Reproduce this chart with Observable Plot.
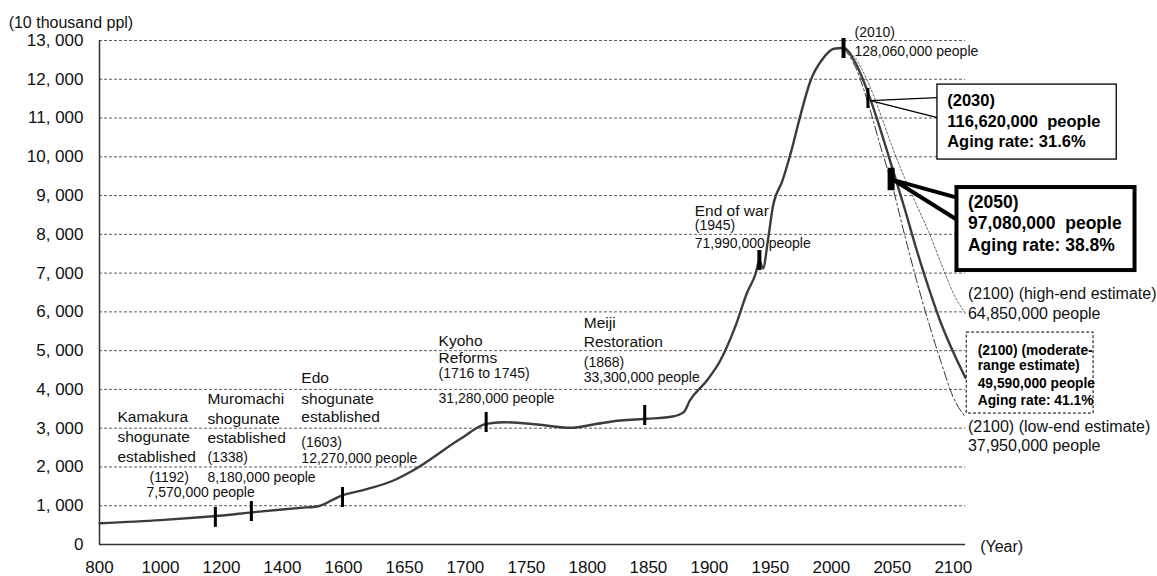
<!DOCTYPE html>
<html><head><meta charset="utf-8">
<script src="https://cdn.jsdelivr.net/npm/d3@7"></script>
<script src="https://cdn.jsdelivr.net/npm/@observablehq/plot@0.6"></script>
<style>body{margin:0;background:#fff} svg{display:block}</style>
</head><body><div id="chart"></div>
<script>
// ---- data ----
const xTickLabels = ["800","1000","1200","1400","1600","1650","1700","1750","1800","1850","1900","1950","2000","2050","2100"];
const yTicks = [0,1000,2000,3000,4000,5000,6000,7000,8000,9000,10000,11000,12000,13000];

const historyYears = [800,1000,1150,1192,1300,1460,1518,1590,1620,1641,1657,1696,1717,1731,1759,1786,1808,1827,1849,1870,1879,1884,1898,1909,1921,1931,1938,1941,1944,1948,1952,1960,1968,1975,1983,1993,2002,2010];
const historyPop   = [550,630,715,740,830,946,988,1250,1436,1651,1909,2726,3113,3155,3095,3010,3113,3198,3242,3301,3413,3714,4230,4746,5600,6500,6990,7325,7119,7841,8700,9389,10248,11109,11968,12528,12786,12806];

const projYears   = [2010,2020,2030,2040,2050,2060,2070,2080,2090,2100,2110];
const moderatePop = [12806,12410,11662,10728,9708,8674,7590,6600,5700,4959,4300];
const highPop     = [12806,12530,11930,11130,10250,9460,8750,8050,7250,6485,5950];
const lowPop      = [12806,12300,11400,10300,9250,7997,6800,5700,4700,3795,3280];

const markerYears = [1180,1298,1597,1717,1847,1941,2010,2030,2049];
const markerPop   = [700,850,1212,3147,3327,7325,12793,11504,9415];

// ---- helpers ----
function toX(year){ return year <= 1600 ? (year-800)/200 : 4 + (year-1600)/50; }
const fmtY = d => d3.format(",")(d).replace(",", ", ");

const mainSeries = historyYears.map((y,i)=>({year:y, pop:historyPop[i]}))
  .concat(projYears.slice(1).map((y,i)=>({year:y, pop:moderatePop[i+1]})));
const highSeries = projYears.map((y,i)=>({year:y, pop:highPop[i]}));
const lowSeries  = projYears.map((y,i)=>({year:y, pop:lowPop[i]}));
const markers = markerYears.map((y,i)=>({year:y, pop:markerPop[i]}));

// annotation texts
const labelsName = [
  {year:859, pop:3275, text:"Kamakura"},{year:859, pop:2760, text:"shogunate"},{year:859, pop:2244, text:"established"},
  {year:1154, pop:3740, text:"Muromachi"},{year:1154, pop:3224, text:"shogunate"},{year:1154, pop:2734, text:"established"},
  {year:1462, pop:4281, text:"Edo"},{year:1462, pop:3765, text:"shogunate"},{year:1462, pop:3275, text:"established"},
  {year:1678, pop:5261, text:"Kyoho"},{year:1678, pop:4797, text:"Reforms"},
  {year:1797, pop:5725, text:"Meiji"},{year:1797, pop:5210, text:"Restoration"},
  {year:1888, pop:8614, text:"End of war"}
];
const labelsDetail = [
  {year:964, pop:1728, text:"(1192)"},{year:954, pop:1341, text:"7,570,000 people"},
  {year:1154, pop:2244, text:"(1338)"},{year:1154, pop:1728, text:"8,180,000 people"},
  {year:1462, pop:2631, text:"(1603)"},{year:1462, pop:2218, text:"12,270,000 people"},
  {year:1678, pop:4410, text:"(1716 to 1745)"},{year:1678, pop:3765, text:"31,280,000 people"},
  {year:1797, pop:4694, text:"(1868)"},{year:1797, pop:4307, text:"33,300,000 people"},
  {year:1888, pop:8227, text:"(1945)"},{year:1888, pop:7763, text:"71,990,000 people"},
  {year:2019, pop:13204, text:"(2010)"},{year:2019, pop:12714, text:"128,060,000 people"}
];
const labelsRight = [
  {year:2112, pop:6473, text:"(2100) (high-end estimate)"},{year:2112, pop:5957, text:"64,850,000 people"},
  {year:2112, pop:3043, text:"(2100) (low-end estimate)"},{year:2112, pop:2553, text:"37,950,000 people"}
];
const box2030Text = [
  {year:2095, pop:11451, text:"(2030)"},{year:2095, pop:10909, text:"116,620,000\u00a0\u00a0people"},{year:2095, pop:10393, text:"Aging rate: 31.6%"}
];
const box2050Text = [
  {year:2112, pop:8820, text:"(2050)"},{year:2112, pop:8279, text:"97,080,000\u00a0\u00a0people"},{year:2112, pop:7711, text:"Aging rate: 38.8%"}
];
const boxModText = [
  {year:2120, pop:5003, text:"(2100) (moderate-"},{year:2120, pop:4616, text:"range estimate)"},
  {year:2120, pop:4152, text:"49,590,000 people"},{year:2120, pop:3714, text:"Aging rate: 41.1%"}
];

const X = d => toX(d.year);
const txt = (data, o) => Plot.text(data, {x:X, y:"pop", text:"text", textAnchor:"start", lineAnchor:"middle", fill:"#111", ...o});

const chart = Plot.plot({
  width: 1157, height: 576,
  marginLeft: 99, marginRight: 192, marginTop: 40, marginBottom: 32,
  style: {fontFamily: "'Liberation Sans', Arial, sans-serif", fontSize: "14px", color: "#111", background: "#fff"},
  x: {domain: [0, 14.2]},
  y: {domain: [0, 13000]},
  marks: [
    Plot.gridY(yTicks.filter(d => d > 0), {stroke: "#333", strokeOpacity: 1, strokeWidth: 0.8, strokeDasharray: "3,2"}),
    Plot.axisY(yTicks, {tickSize: 0, tickPadding: 16, tickFormat: fmtY, fontSize: 17, label: null}),
    Plot.axisX(d3.range(15), {tickSize: 0, tickPadding: 16, tickFormat: i => xTickLabels[i], fontSize: 17, label: null}),
    Plot.ruleX([0], {stroke: "#333", strokeWidth: 1.5}),
    Plot.ruleY([0], {stroke: "#333", strokeWidth: 1.5}),
    Plot.line(highSeries, {x: X, y: "pop", stroke: "#555", strokeWidth: 0.9, strokeDasharray: "2,2", curve: "monotone-x"}),
    Plot.line(lowSeries, {x: X, y: "pop", stroke: "#333", strokeWidth: 1, strokeDasharray: "9,3,2,3", curve: "monotone-x"}),
    Plot.line(mainSeries, {x: X, y: "pop", stroke: "#3c3c3c", strokeWidth: 2.4, curve: "monotone-x"}),
    Plot.ruleX(markers, {x: X, y1: d => d.pop - (d.year === 2049 ? 290 : 258), y2: d => d.pop + (d.year === 2049 ? 290 : 258),
      stroke: "#000", strokeWidth: d => d.year === 2049 ? 7 : (d.year === 1941 || d.year === 2010 ? 4 : 3)}),
    // callout 2030
    Plot.line([{year:2087,pop:11528},{year:2032,pop:11451},{year:2087,pop:11012}], {x: X, y: "pop", stroke: "#000", strokeWidth: 1.2, fill: "white"}),
    Plot.rect([{a:2087,b:2234,c:9929,d:11863}], {x1: d => toX(d.a), x2: d => toX(d.b), y1: "c", y2: "d", fill: "white", stroke: "#000", strokeWidth: 1.3}),
    txt(box2030Text, {fontSize: 16.5, fontWeight: "bold", fill: "#000"}),
    // callout 2050
    Plot.line([{year:2103,pop:8949},{year:2051,pop:9400},{year:2104,pop:8356}], {x: X, y: "pop", stroke: "#000", strokeWidth: 4, fill: "white", strokeLinejoin: "miter"}),
    Plot.rect([{a:2103,b:2249,c:7066,d:9207}], {x1: d => toX(d.a), x2: d => toX(d.b), y1: "c", y2: "d", fill: "white", stroke: "#000", strokeWidth: 4}),
    txt(box2050Text, {fontSize: 17.5, fontWeight: "bold", fill: "#000"}),
    // moderate box
    Plot.rect([{a:2111,b:2215,c:3378,d:5467}], {x1: d => toX(d.a), x2: d => toX(d.b), y1: "c", y2: "d", fill: "white", stroke: "#000", strokeWidth: 1, strokeDasharray: "3,2"}),
    txt(boxModText, {fontSize: 13.8, fontWeight: "bold", fill: "#000"}),
    // labels
    txt(labelsName, {fontSize: 15.5}),
    txt(labelsDetail, {fontSize: 14}),
    txt(labelsRight, {fontSize: 16}),
    txt([{year:502, pop:13463, text:"(10 thousand ppl)"}], {fontSize: 16}),
    txt([{year:2122, pop:-52, text:"(Year)"}], {fontSize: 16})
  ]
});
document.getElementById("chart").appendChild(chart);
</script>
</body></html>
